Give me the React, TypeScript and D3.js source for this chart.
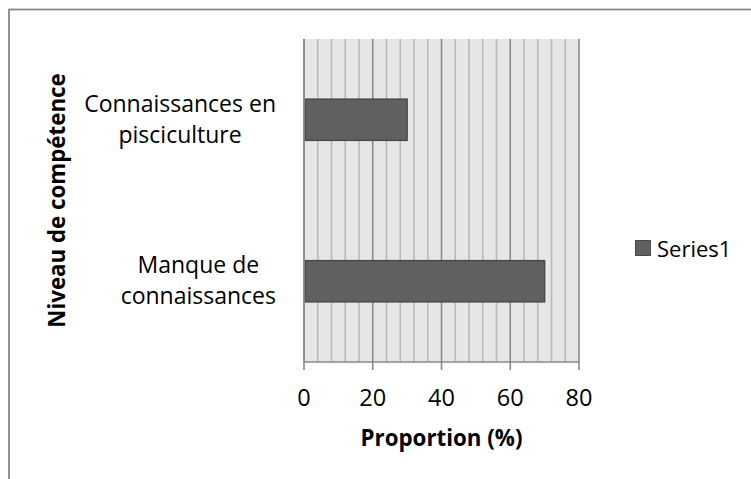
import React, { useEffect, useRef } from "react";
import * as d3 from "d3";

const categories: string[][] = [
  ["Manque de", "connaissances"],
  ["Connaissances en", "pisciculture"],
];
const values: number[] = [70, 30];
const seriesName = "Series1";
const xTicks: number[] = [0, 20, 40, 60, 80];
const xTitle = "Proportion (%)";
const yTitle = "Niveau de compétence";

const W = 751;
const H = 479;
const FONT = "'Open Sans', 'Noto Sans', sans-serif";

export default function App() {
  const ref = useRef<SVGSVGElement | null>(null);

  useEffect(() => {
    const svg = d3.select(ref.current);
    svg.selectAll("*").remove();

    const x0 = 304, x1 = 579, y0 = 39, y1 = 362;

    // outer chart border
    svg.append("rect")
      .attr("x", 9).attr("y", 9.5)
      .attr("width", 900).attr("height", 700)
      .attr("fill", "#fff").attr("stroke", "#878787").attr("stroke-width", 1.8);

    const x = d3.scaleLinear().domain([0, 80]).range([x0, x1]);
    const keys = categories.map((c) => c.join(" "));
    const y = d3.scaleBand<string>().domain(keys.slice().reverse()).range([y0, y1]).padding(0);

    // plot background
    svg.append("rect")
      .attr("x", x0).attr("y", y0)
      .attr("width", x1 - x0).attr("height", y1 - y0)
      .attr("fill", "#e6e6e6");

    // minor gridlines
    const minor = d3.range(0, 81, 4).filter((v) => v % 20 !== 0);
    svg.append("g").selectAll("line").data(minor).join("line")
      .attr("x1", (d) => x(d)).attr("x2", (d) => x(d))
      .attr("y1", y0).attr("y2", y1)
      .attr("stroke", "#b9b9b9").attr("stroke-width", 1.6);
    // major gridlines
    svg.append("g").selectAll("line").data(xTicks).join("line")
      .attr("x1", (d) => x(d)).attr("x2", (d) => x(d))
      .attr("y1", y0).attr("y2", y1)
      .attr("stroke", "#8a8a8a").attr("stroke-width", 1.6);

    // bars
    const bw = y.bandwidth() * 0.255;
    svg.append("g").selectAll("rect").data(values).join("rect")
      .attr("x", x(0) + 1)
      .attr("y", (_, i) => (y(keys[i]) as number) + y.bandwidth() / 2 - bw / 2)
      .attr("width", (d) => x(d) - x(0) - 1)
      .attr("height", bw)
      .attr("fill", "#606060")
      .attr("stroke", "#4a4a4a").attr("stroke-width", 1.5);

    // x axis line & ticks
    svg.append("line")
      .attr("x1", x0).attr("x2", x1).attr("y1", y1).attr("y2", y1)
      .attr("stroke", "#8a8a8a").attr("stroke-width", 1.6);
    svg.append("g").selectAll("line").data(xTicks).join("line")
      .attr("x1", (d) => x(d)).attr("x2", (d) => x(d))
      .attr("y1", y1).attr("y2", y1 + 8)
      .attr("stroke", "#8a8a8a").attr("stroke-width", 1.6);
    // y axis line
    svg.append("line")
      .attr("x1", x0).attr("x2", x0).attr("y1", y0).attr("y2", y1)
      .attr("stroke", "#8a8a8a").attr("stroke-width", 1.6);

    // tick labels
    svg.append("g").selectAll("text").data(xTicks).join("text")
      .attr("x", (d) => x(d)).attr("y", 406)
      .attr("text-anchor", "middle")
      .attr("font-family", FONT).attr("font-size", 23.5).attr("fill", "#000")
      .text((d) => String(d));

    // category labels
    categories.forEach((lines, i) => {
      const cy = (y(keys[i]) as number) + y.bandwidth() / 2;
      const g = svg.append("g");
      const texts = lines.map((ln, j) =>
        g.append("text")
          .attr("y", cy - 8 + j * 31)
          .attr("text-anchor", "middle")
          .attr("font-family", FONT).attr("font-size", 23).attr("fill", "#000")
          .text(ln)
      );
      const maxW = d3.max(texts, (t) => (t.node() as SVGTextElement).getComputedTextLength()) || 0;
      const right = 276;
      texts.forEach((t) => t.attr("x", right - maxW / 2));
    });

    // axis titles
    svg.append("text")
      .attr("x", (x0 + x1) / 2).attr("y", 446)
      .attr("text-anchor", "middle")
      .attr("font-family", FONT).attr("font-size", 22.3).attr("font-weight", "bold").attr("fill", "#000")
      .text(xTitle);
    svg.append("text")
      .attr("transform", `translate(65, ${(y0 + y1) / 2}) rotate(-90)`)
      .attr("text-anchor", "middle")
      .attr("font-family", FONT).attr("font-size", 22.3).attr("font-weight", "bold").attr("fill", "#000")
      .text(yTitle);

    // legend
    svg.append("rect")
      .attr("x", 635.5).attr("y", 240.5).attr("width", 15).attr("height", 15)
      .attr("fill", "#606060").attr("stroke", "#4a4a4a").attr("stroke-width", 1);
    svg.append("text")
      .attr("x", 657).attr("y", 256.5)
      .attr("font-family", FONT).attr("font-size", 22).attr("fill", "#000")
      .text(seriesName);
  }, []);

  return (
    <svg
      ref={ref}
      width={W}
      height={H}
      style={{ position: "absolute", left: 0, top: 0, display: "block" }}
    />
  );
}
